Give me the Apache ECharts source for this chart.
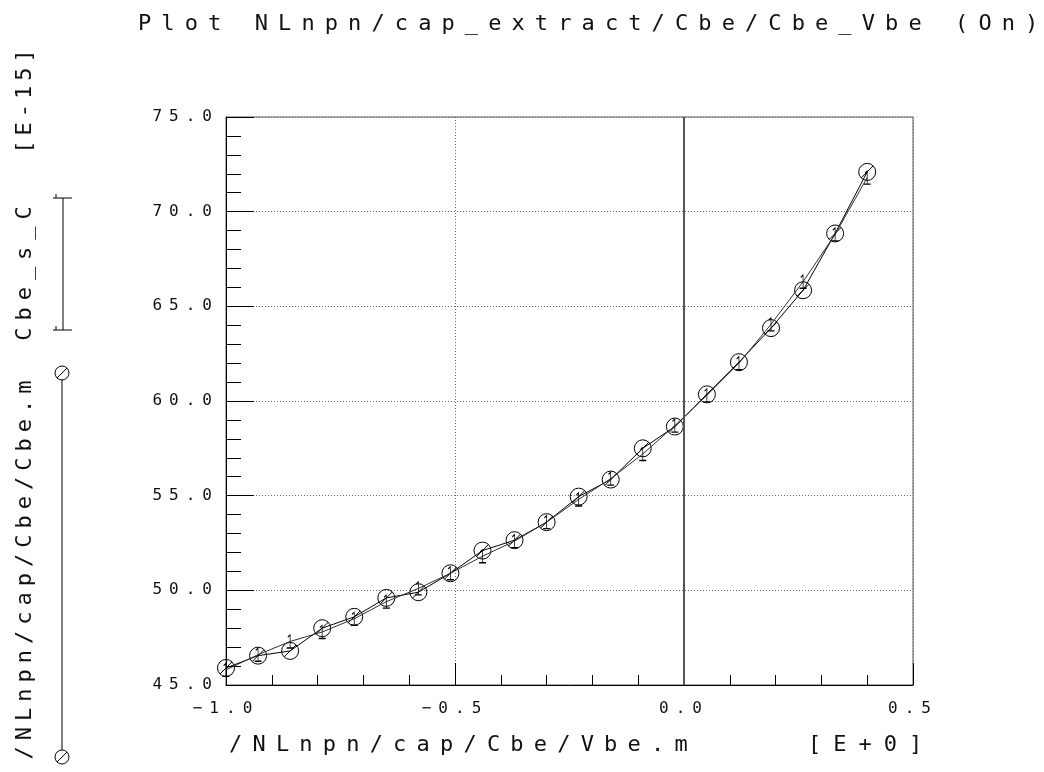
<!DOCTYPE html>
<html><head><meta charset="utf-8">
<script src="https://cdn.jsdelivr.net/npm/echarts@6/dist/echarts.min.js"></script>
<style>html,body{margin:0;padding:0;background:#fff}#c{width:1044px;height:772px}</style>
</head><body><div id="c"></div>
<script>
// Data
var vbe = [-1.00, -0.93, -0.86, -0.79, -0.72, -0.65, -0.58, -0.51, -0.44, -0.37, -0.30,
           -0.23, -0.16, -0.09, -0.02, 0.05, 0.12, 0.19, 0.26, 0.33, 0.40];
var cbeM = [45.9, 46.55, 46.8, 48.0, 48.6, 49.6, 49.9, 50.9, 52.1, 52.65, 53.6,
            54.95, 55.85, 57.5, 58.65, 60.35, 62.05, 63.85, 65.85, 68.85, 72.1];
var cbeS = [45.8, 46.6, 47.3, 47.8, 48.5, 49.4, 50.1, 50.9, 51.8, 52.6, 53.6,
            54.8, 55.9, 57.2, 58.7, 60.3, 62.0, 64.05, 66.3, 68.8, 71.8];
var seriesNames = ['/NLnpn/cap/Cbe/Cbe.m', 'Cbe_s_C'];
var yUnit = '[E-15]';
var xUnit = '[E+0]';
var titleText = 'Plot NLnpn/cap_extract/Cbe/Cbe_Vbe (On)';
var xName = '/NLnpn/cap/Cbe/Vbe.m';
var xMin = -1.0, xMax = 0.5, xStep = 0.5;
var yMin = 45, yMax = 75, yStep = 5;

// letter spacing support: font family token "lsN" / "lsN_D" sets canvas letterSpacing
(function(){
  var P = window.CanvasRenderingContext2D && CanvasRenderingContext2D.prototype;
  if (!P) return;
  var d = Object.getOwnPropertyDescriptor(P, 'font');
  if (!d || !d.set || !('letterSpacing' in P)) return;
  Object.defineProperty(P, 'font', {
    configurable: true,
    get: function(){ return d.get.call(this); },
    set: function(v){
      d.set.call(this, v);
      var m = /(?:^|[\s,])ls(\d+)(?:_(\d+))?/.exec(String(v));
      this.letterSpacing = m ? (m[1] + (m[2] ? '.' + m[2] : '') + 'px') : '0px';
    }
  });
})();

var FONT = 'DejaVu Sans Mono';
var TXT = '#111';
function fmt(v){ return v.toFixed(1).replace('-', '\u2212'); }

var circSlash = 'path://M0,8A8,8,0,1,1,16,8A8,8,0,1,1,0,8ZM2.4,13.6L13.6,2.4';
var errBar = 'path://M1,2L3,0L3,12M0,12L6,12';

var chart = echarts.init(document.getElementById('c'), null, {renderer: 'canvas'});
var option = {
  animation: false,
  backgroundColor: '#fff',
  title: {
    text: titleText, left: 133, top: 3,
    textStyle: {fontFamily: FONT + ', ls10_1', fontSize: 22, fontWeight: 'normal', color: TXT}
  },
  grid: {left: 226, right: 131, top: 117, bottom: 87, show: true, borderColor: '#555', borderWidth: 1},
  xAxis: {
    type: 'value', min: xMin, max: xMax, interval: xStep,
    axisLine: {show: true, onZero: false, lineStyle: {color: '#000', width: 1}},
    axisTick: {show: true, inside: true, length: 22, lineStyle: {color: '#000'}},
    minorTick: {show: true, splitNumber: 5, length: 10, lineStyle: {color: '#000'}},
    splitLine: {show: true, lineStyle: {color: '#666', type: [1, 2], width: 1}},
    axisLabel: {margin: 12, color: TXT, fontFamily: FONT + ', ls7', fontSize: 16, formatter: fmt}
  },
  yAxis: {
    type: 'value', min: yMin, max: yMax, interval: yStep,
    axisLine: {show: true, onZero: false, lineStyle: {color: '#000', width: 1}},
    axisTick: {show: true, inside: true, length: 28, lineStyle: {color: '#000'}},
    minorTick: {show: true, splitNumber: 5, length: 15, lineStyle: {color: '#000'}},
    splitLine: {show: true, lineStyle: {color: '#666', type: [1, 2], width: 1}},
    axisLabel: {margin: 7, color: TXT, fontFamily: FONT + ', ls7', fontSize: 16, formatter: fmt}
  },
  graphic: [
    {type: 'text', x: 229, y: 745, style: {text: xName, fontFamily: FONT + ', ls10_2', fontSize: 22, fill: TXT, align: 'left', verticalAlign: 'middle'}},
    {type: 'text', x: 808, y: 745, style: {text: xUnit, fontFamily: FONT + ', ls12', fontSize: 22, fill: TXT, align: 'left', verticalAlign: 'middle'}},
    {type: 'text', x: 25, y: 567, rotation: Math.PI / 2, style: {text: seriesNames[0], fontFamily: FONT + ', ls6', fontSize: 22, fill: TXT, align: 'center', verticalAlign: 'middle'}},
    {type: 'text', x: 25, y: 270, rotation: Math.PI / 2, style: {text: seriesNames[1], fontFamily: FONT + ', ls7', fontSize: 22, fill: TXT, align: 'center', verticalAlign: 'middle'}},
    {type: 'text', x: 25, y: 99, rotation: Math.PI / 2, style: {text: yUnit, fontFamily: FONT + ', ls5', fontSize: 22, fill: TXT, align: 'center', verticalAlign: 'middle'}},
    // legend sample: series 1
    {type: 'line', shape: {x1: 62, y1: 373, x2: 62, y2: 757}, style: {stroke: '#000', lineWidth: 1}},
    {type: 'circle', shape: {cx: 62, cy: 373, r: 7}, style: {fill: '#fff', stroke: '#000', lineWidth: 1}},
    {type: 'line', shape: {x1: 57, y1: 378, x2: 67, y2: 368}, style: {stroke: '#000', lineWidth: 1}},
    {type: 'circle', shape: {cx: 62, cy: 757, r: 7}, style: {fill: '#fff', stroke: '#000', lineWidth: 1}},
    {type: 'line', shape: {x1: 57, y1: 762, x2: 67, y2: 752}, style: {stroke: '#000', lineWidth: 1}},
    // legend sample: series 2
    {type: 'line', shape: {x1: 63, y1: 198, x2: 63, y2: 330}, style: {stroke: '#000', lineWidth: 1}},
    {type: 'line', shape: {x1: 53, y1: 198, x2: 72, y2: 198}, style: {stroke: '#000', lineWidth: 1}},
    {type: 'line', shape: {x1: 53, y1: 330, x2: 72, y2: 330}, style: {stroke: '#000', lineWidth: 1}},
    {type: 'line', shape: {x1: 56, y1: 198, x2: 56, y2: 194}, style: {stroke: '#000', lineWidth: 1}},
    {type: 'line', shape: {x1: 56, y1: 330, x2: 56, y2: 326}, style: {stroke: '#000', lineWidth: 1}}
  ],
  series: [
    {
      type: 'line', name: seriesNames[0],
      data: vbe.map(function(x, i){ return [x, cbeM[i]]; }),
      symbol: circSlash, symbolSize: 17, showAllSymbol: true,
      lineStyle: {color: '#000', width: 1},
      itemStyle: {color: 'rgba(0,0,0,0)', borderColor: '#000', borderWidth: 1},
      z: 3,
      markLine: {
        silent: true, symbol: 'none', animation: false,
        label: {show: false},
        lineStyle: {color: '#555', type: 'solid', width: 2},
        data: [{xAxis: 0}]
      }
    },
    {
      type: 'line', name: seriesNames[1],
      data: vbe.map(function(x, i){ return [x, cbeS[i]]; }),
      symbol: errBar, symbolSize: [7, 13], showAllSymbol: true,
      lineStyle: {color: '#333', width: 1},
      itemStyle: {color: 'rgba(0,0,0,0)', borderColor: '#000', borderWidth: 1},
      z: 4
    }
  ]
};
chart.setOption(option);
</script>
</body></html>
